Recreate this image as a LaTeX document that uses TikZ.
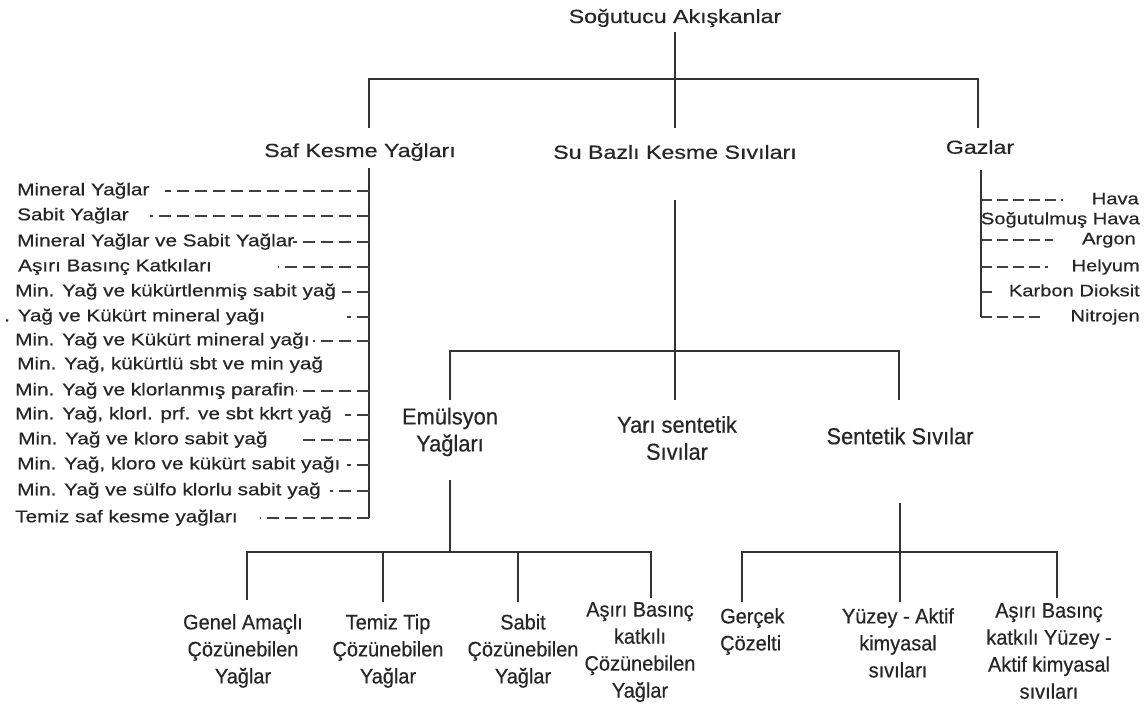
\documentclass[tikz,border=0pt]{standalone}
\usepackage{fontspec}
\setmainfont{Liberation Sans}
\newfontfamily\wideF{Liberation Sans}[FakeStretch=1.22, FakeBold=0.4]
\newfontfamily\narrowF{Liberation Sans}[FakeStretch=0.95, FakeBold=0.4]
\begin{document}
\begin{tikzpicture}[x=1pt,y=-1pt,
  ln/.style={line width=1.3pt, draw=black!80},
  dsh/.style={line width=1.3pt, draw=black!75, dash pattern=on 12pt off 6pt},
  gdsh/.style={line width=1.3pt, draw=black!75, dash pattern=on 11pt off 5pt},
  toplab/.style={font=\wideF\fontsize{19}{23}\selectfont, inner sep=0pt, text=black!85},
  item/.style={font=\wideF\fontsize{17}{20}\selectfont, anchor=west, inner sep=0pt, text height=12pt, text depth=3.5pt, text=black!85},
  gas/.style={font=\wideF\fontsize{16.5}{20}\selectfont, anchor=east, inner sep=0pt, text height=12pt, text depth=3.5pt, text=black!85},
  midlab/.style={font=\narrowF\fontsize{23}{27}\selectfont, align=center, inner sep=0pt, text=black!85},
  botlab/.style={font=\narrowF\fontsize{21}{27}\selectfont, align=center, inner sep=0pt, anchor=north, text=black!85}
]
\useasboundingbox[fill=white] (0,0) rectangle (1146,704);

% top level
\node[toplab] (title) at (675,18) {Soğutucu Akışkanlar};
\node[toplab] (saf) at (360,152) {Saf Kesme Yağları};
\node[toplab] (su) at (675,152) {Su Bazlı Kesme Sıvıları};
\node[toplab] (gaz) at (980,147) {Gazlar};

\coordinate (t0) at (675,32);
\coordinate (t1) at (675,128);
\coordinate (hL) at (369,79);
\coordinate (hR) at (978,79);
\coordinate (hLd) at (369,128);
\coordinate (hRd) at (978,128);
\draw[ln] (t0) -- (t1);
\draw[ln] (hLd) -- (hL) -- (hR) -- (hRd);

% left list
\node[item] (l1) at (17,191) {Mineral Yağlar};
\node[item] (l2) at (17,216) {Sabit Yağlar};
\node[item] (l3) at (17,242) {Mineral Yağlar ve Sabit Yağlar};
\node[item] (l4) at (18,267) {Aşırı Basınç Katkıları};
\node[item] (l5) at (15,292) {Min. Yağ ve kükürtlenmiş sabit yağ};
\node[item] (l6) at (4,317) {. Yağ ve Kükürt mineral yağı};
\node[item] (l7) at (15,341) {Min. Yağ ve Kükürt mineral yağı};
\node[item] (l8) at (17,365) {Min. Yağ, kükürtlü sbt ve min yağ};
\node[item] (l9) at (15,391) {Min. Yağ ve klorlanmış parafin};
\node[item] (l10) at (15,415) {Min. Yağ, klorl. prf. ve sbt kkrt yağ};
\node[item] (l11) at (18,440) {Min. Yağ ve kloro sabit yağ};
\node[item] (l12) at (17,465) {Min. Yağ, kloro ve kükürt sabit yağı};
\node[item] (l13) at (17,491) {Min. Yağ ve sülfo klorlu sabit yağ};
\node[item] (l14) at (15,518) {Temiz saf kesme yağları};

\coordinate (sbtop) at (369,168);
\draw[ln] (sbtop) -- (l14.west -| sbtop);
\draw[dsh] (l1.west -| sbtop) -- ++(-204,0);
\draw[dsh] (l2.west -| sbtop) -- ++(-219,0);
\draw[dsh] (l3.west -| sbtop) -- ++(-76,0);
\draw[dsh] (l4.west -| sbtop) -- ++(-91,0);
\draw[dsh] (l5.west -| sbtop) -- ++(-27,0);
\draw[dsh] (l6.west -| sbtop) -- ++(-22,0);
\draw[dsh] (l7.west -| sbtop) -- ++(-56,0);
\draw[dsh] (l9.west -| sbtop) -- ++(-73,0);
\draw[dsh] (l10.west -| sbtop) -- ++(-24,0);
\draw[dsh] (l11.west -| sbtop) -- ++(-72,0);
\draw[dsh] (l12.west -| sbtop) -- ++(-22,0);
\draw[dsh] (l13.west -| sbtop) -- ++(-39,0);
\draw[dsh] (l14.west -| sbtop) -- ++(-109,0);

% gases
\node[gas] (g1) at (1139,200) {Hava};
\node[gas] (g2) at (1140,220) {Soğutulmuş Hava};
\node[gas] (g3) at (1136,240) {Argon};
\node[gas] (g4) at (1140,267) {Helyum};
\node[gas] (g5) at (1140,292) {Karbon Dioksit};
\node[gas] (g6) at (1140,317) {Nitrojen};
\coordinate (gtop) at (981,170);
\draw[ln] (gtop) -- (g6.east -| gtop);
\draw[gdsh] (g1.east -| gtop) -- ++(82,0);
\draw[gdsh] (g3.east -| gtop) -- ++(72,0);
\draw[gdsh] (g4.east -| gtop) -- ++(67,0);
\draw[gdsh] (g5.east -| gtop) -- ++(14,0);
\draw[gdsh] (g6.east -| gtop) -- ++(64,0);

% water based branch
\node[midlab] (emu) at (450,432) {Emülsyon\\Yağları};
\node[midlab] (yari) at (677,438) {Yarı sentetik\\Sıvılar};
\node[midlab] (sent) at (900,436) {Sentetik Sıvılar};

\coordinate (s0) at (675,200);
\coordinate (s1) at (675,400);
\coordinate (sL) at (450,351);
\coordinate (sR) at (899,351);
\coordinate (sLd) at (450,400);
\coordinate (sRd) at (899,400);
\draw[ln] (s0) -- (s1);
\draw[ln] (sLd) -- (sL) -- (sR) -- (sRd);

% emulsion children
\node[botlab] (b1) at (243,614) {Genel Amaçlı\\Çözünebilen\\Yağlar};
\node[botlab] (b2) at (388,614) {Temiz Tip\\Çözünebilen\\Yağlar};
\node[botlab] (b3) at (523,614) {Sabit\\Çözünebilen\\Yağlar};
\node[botlab] (b4) at (640,602) {Aşırı Basınç\\katkılı\\Çözünebilen\\Yağlar};

\coordinate (e0) at (450,480);
\coordinate (e1) at (450,552);
\coordinate (eL) at (247,552);
\coordinate (eR) at (651,552);
\coordinate (eLd) at (247,600);
\coordinate (e2) at (383,552);
\coordinate (e2d) at (383,602);
\coordinate (e3) at (518,552);
\coordinate (e3d) at (518,602);
\coordinate (eRd) at (651,598);
\draw[ln] (e0) -- (e1);
\draw[ln] (eLd) -- (eL) -- (eR) -- (eRd);
\draw[ln] (e2) -- (e2d);
\draw[ln] (e3) -- (e3d);

% synthetic children
\node[botlab, anchor=north west, align=left] (c1) at (720,608) {Gerçek\\Çözelti};
\node[botlab] (c2) at (898,608) {Yüzey - Aktif\\kimyasal\\sıvıları};
\node[botlab] (c3) at (1049,603) {Aşırı Basınç\\katkılı Yüzey -\\Aktif kimyasal\\sıvıları};

\coordinate (f0) at (900,503);
\coordinate (f1) at (900,602);
\coordinate (fL) at (742,552);
\coordinate (fR) at (1057,552);
\coordinate (fLd) at (742,602);
\coordinate (fRd) at (1057,598);
\draw[ln] (f0) -- (f1);
\draw[ln] (fLd) -- (fL) -- (fR) -- (fRd);
\end{tikzpicture}
\end{document}
